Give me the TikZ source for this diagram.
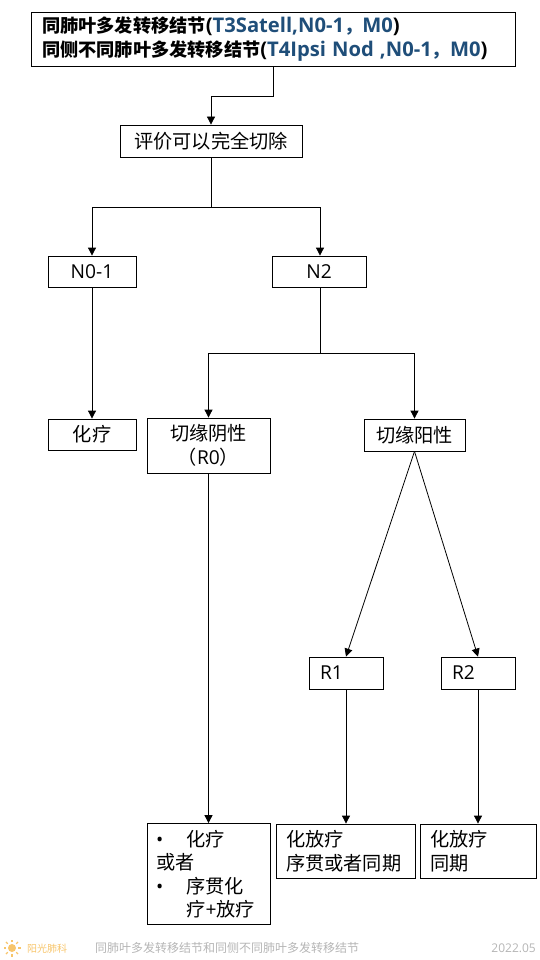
\documentclass[tikz,border=0pt]{standalone}
\usepackage{fontspec}
\setmainfont{Open Sans}
\newfontfamily\cjk{Noto Sans CJK SC}
\newfontfamily\lat{Open Sans}
\usetikzlibrary{arrows.meta}
\definecolor{titleblue}{HTML}{1F4E79}
\definecolor{sunorange}{HTML}{F7C56B}
\definecolor{footgray}{HTML}{B5B5B5}
\newcommand{\bul}{\makebox[30.5pt][l]{\lat\textbullet}}
\newcommand{\toplat}{\fontsize{20.2}{23.5}\selectfont\lat}
\tikzset{
  boxn/.style={draw, line width=0.8pt, inner sep=0pt, font=\fontsize{19.2}{23.5}\selectfont\cjk},
  conn/.style={line width=0.8pt},
  arr/.style={conn, -{Triangle[length=8pt,width=8pt]}},
  foot/.style={inner sep=0pt, font=\fontsize{12}{14}\selectfont\cjk, text=footgray}
}
\begin{document}
\begin{tikzpicture}[x=1pt, y=-1pt]
  \useasboundingbox (0,0) rectangle (540,960);

  \node[boxn, minimum width=484pt, minimum height=54pt, align=left, text width=462pt,
        font=\fontsize{18.2}{23.5}\selectfont\cjk\bfseries] (top) at (273,39)
    {同肺叶多发转移结节{\toplat(\color{titleblue}T3Satell,N0-1}{\color{titleblue}，}{\toplat\color{titleblue}M0}{\toplat)}\\
     同侧不同肺叶多发转移结节{\toplat(\color{titleblue}T4Ipsi Nod ,N0-1}{\color{titleblue}，}{\toplat\color{titleblue}M0}{\toplat)}};
  \node[boxn, minimum width=182pt, minimum height=32pt] (eval) at (211,141) {评价可以完全切除};
  \node[boxn, minimum width=88pt, minimum height=31pt] (nlow) at (92,271.5) {\lat N0-1};
  \node[boxn, minimum width=94pt, minimum height=31pt] (ntwo) at (319,271.5) {\lat N2};
  \node[boxn, minimum width=88pt, minimum height=31pt] (chemo) at (92,434.5) {化疗};
  \node[boxn, minimum width=123pt, minimum height=55pt, align=center] (neg) at (208.5,445.5) {切缘阴性\\（{\lat R0}）};
  \node[boxn, minimum width=101pt, minimum height=32pt] (pos) at (414.5,435) {切缘阳性};
  \node[boxn, minimum width=74pt, minimum height=32pt, align=left, text width=52pt] (rone) at (346,673) {\lat R1};
  \node[boxn, minimum width=74pt, minimum height=32pt, align=left, text width=52pt] (rtwo) at (478,673) {\lat R2};
  \node[boxn, minimum width=123pt, minimum height=101pt, align=left, text width=105pt] (seq) at (208.5,874)
    {\bul 化疗\\或者\\\bul 序贯化\\\hspace*{30.5pt}疗{\lat +}放疗};
  \node[boxn, minimum width=139pt, minimum height=54pt, align=left, text width=119pt] (ropt) at (345.5,851) {化放疗\\序贯或者同期};
  \node[boxn, minimum width=116pt, minimum height=54pt, align=left, text width=96pt] (rsim) at (478,851) {化放疗\\同期};

  % branch points
  \coordinate (evalsplit) at (211,207);
  \coordinate (topbend) at (273,96);
  \coordinate (ntwosplit) at (320,353);

  \draw[arr] (top.south -| topbend) -- (topbend) -- (topbend -| eval.north) -- (eval.north);
  \draw[conn] (eval.south) -- (evalsplit);
  \draw[arr] (evalsplit) -| (nlow.north);
  \draw[arr] (evalsplit) -| (ntwo.north -| ntwosplit);
  \draw[arr] (nlow) -- (chemo);
  \draw[conn] (ntwo.south -| ntwosplit) -- (ntwosplit);
  \draw[arr] (ntwosplit) -| (neg.north);
  \draw[arr] (ntwosplit) -| (pos.north);
  \draw[arr] (neg.south) -- (seq.north);
  \draw[arr] (pos.south) -- (rone.north);
  \draw[arr] (pos.south) -- (rtwo.north);
  \draw[arr] (rone.south) -- (rone.south |- ropt.north);
  \draw[arr] (rtwo.south) -- (rsim.north);

  % footer
  \fill[sunorange] (12,948) circle (4pt);
  \foreach \ang in {0,45,...,315}
    \draw[sunorange, line width=1.2pt] (12,948) ++(\ang:6pt) -- ++(\ang:2.5pt);
  \node[foot, text=sunorange, anchor=west, font=\fontsize{10}{12}\selectfont\cjk] (brand) at (27,948.5) {阳光肺科};
  \node[foot, anchor=west] (foottitle) at (95,948) {同肺叶多发转移结节和同侧不同肺叶多发转移结节};
  \node[foot, anchor=east] (footdate) at (536,948.5) {\lat 2022.05};
\end{tikzpicture}
\end{document}
